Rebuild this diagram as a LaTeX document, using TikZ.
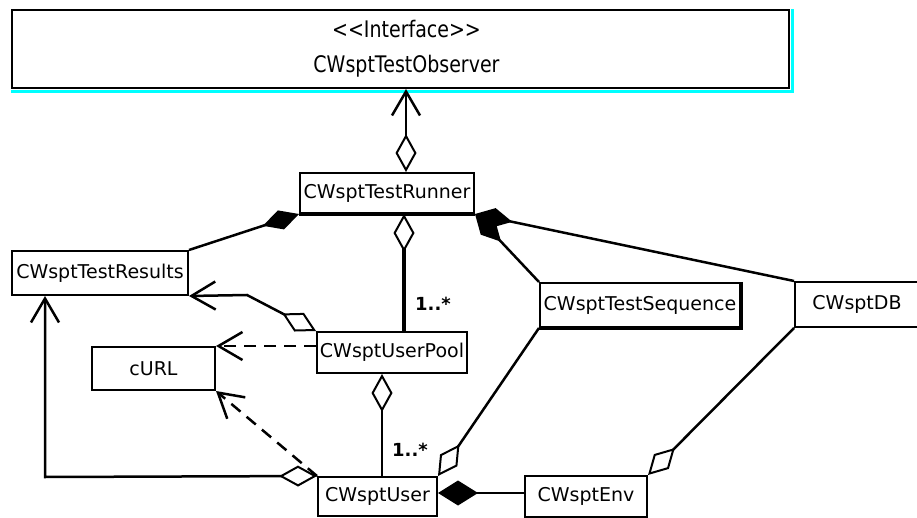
\documentclass[tikz,border=0pt]{standalone}
\usepackage{fontspec}
\setmainfont{DejaVu Sans}
\usetikzlibrary{arrows.meta,calc}
\definecolor{ifacecyan}{RGB}{0,255,255}
\newcommand{\tall}[1]{\scalebox{1}[1.2]{#1}}
\begin{document}
\begin{tikzpicture}[x=1pt,y=-1pt,
  cls/.style={draw, line width=2pt, fill=white, inner sep=0pt,
    font=\fontsize{19}{21}\selectfont},
  mult/.style={font=\bfseries\fontsize{18}{20}\selectfont, inner sep=0pt},
  link/.style={line width=2.5pt},
  heavylink/.style={line width=4pt},
  dep/.style={line width=2.5pt, dash pattern=on 12pt off 8pt},
  agg/.style={{Diamond[open, length=38pt, width=21pt, line width=2pt]}-},
  aggnav/.style={{Diamond[open, length=38pt, width=21pt, line width=2pt]}-{Straight Barb[length=24pt, width=28pt, line width=2.5pt]}},
  comp/.style={{Diamond[length=38pt, width=20pt]}-},
  compbig/.style={{Diamond[length=40pt, width=25pt]}-},
  nav/.style={-{Straight Barb[length=24pt, width=28pt, line width=2.5pt]}},
]
\useasboundingbox (0,0) rectangle (917,518);
\clip (0,0) rectangle (917,518);

% interface box with its cyan shadow
\node[cls, minimum width=777pt, minimum height=78pt] (iface) at (400.5,49) {};
\draw[ifacecyan, line width=3pt] ($(iface.south west)+(0,2.5)$) -- ($(iface.south east)+(2.5,2.5)$) -- ($(iface.north east)+(2.5,0)$);
\node[font=\fontsize{19}{21}\selectfont, inner sep=0pt] (stereo) at ($(iface.north)+(6,20)$) {\tall{<\kern0pt<Interface>\kern0pt>}};
\node[font=\fontsize{19}{21}\selectfont, inner sep=0pt] (ifname) at ($(iface.north)+(6,57)$) {\tall{CWsptTestObserver}};

% classes
\node[cls, minimum width=174pt, minimum height=40pt] (runner) at (387,193) {CWsptTestRunner};
\node[cls, minimum width=176pt, minimum height=44pt] (results) at (100,273) {CWsptTestResults};
\node[cls, minimum width=150pt, minimum height=41pt] (pool) at (392,352.5) {CWsptUserPool};
\node[cls, minimum width=123pt, minimum height=43pt] (curl) at (153.5,368.5) {cURL};
\node[cls, minimum width=119pt, minimum height=39pt] (user) at (377.5,496.5) {CWsptUser};
\node[cls, minimum width=122pt, minimum height=41pt] (env) at (586,496.5) {CWsptEnv};
\node[cls, minimum width=200pt, minimum height=44pt] (seq) at (640,305) {CWsptTestSequence};
\node[cls, minimum width=130pt, minimum height=45pt] (db) at (860,304.5) {\hspace*{-6pt}CWsptDB};

% heavier edges
\draw[line width=4pt] (runner.south west) -- (runner.south east);
\draw[line width=4pt] (seq.north east) -- (seq.south east) -- (seq.south west);

% runner observes the interface
\coordinate (rtop) at ([xshift=19pt]runner.north);
\coordinate (itop) at (rtop |- iface.south);
\draw[link, aggnav] (rtop) -- (itop);

% compositions owned by the runner
\draw[link, comp] (runner.south west) -- (results.north east);
\draw[link, comp] (runner.south east) -- (seq.north west);
\draw[link, comp] (runner.south east) -- (db.north west);

% runner -> user pool
\coordinate (rbot) at ([xshift=17pt]runner.south);
\coordinate (ptop) at (rbot |- pool.north);
\draw[heavylink, agg] (rbot) -- (ptop);
\node[mult] (m1) at (433,304) {1..*};

% user pool -> results
\coordinate (pbend) at (247,295);
\draw[link, aggnav] (pool.north west) -- (pbend) -- (results.south east);

% dependencies on cURL
\draw[dep, nav] (pool.west |- curl.north east) -- (curl.north east);
\draw[dep, nav] (user.north west) -- (curl.south east);

% user -> results
\coordinate (ucorner) at (45,477);
\draw[link, aggnav] (user.north west) -- (ucorner) -- (ucorner |- results.south);

% user pool -> users
\coordinate (pbot) at ([xshift=-10pt]pool.south);
\coordinate (utop) at (pbot |- user.north);
\draw[link, agg] (pbot) -- (utop);
\node[mult] (m2) at (410,450) {1..*};

% user parts
\coordinate (uright) at ([yshift=3.5pt]user.east);
\coordinate (eleft) at (uright -| env.west);
\draw[link, compbig] (uright) -- (eleft);
\draw[link, agg] (user.north east) -- (seq.south west);
\draw[link, agg] (env.north east) -- (db.south west);
\end{tikzpicture}
\end{document}
